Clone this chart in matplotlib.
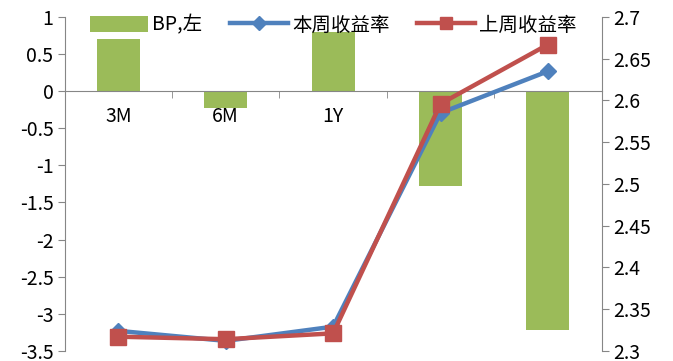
import numpy as np
import matplotlib
matplotlib.use("Agg")
import matplotlib.pyplot as plt
from matplotlib.patches import Patch
from matplotlib.lines import Line2D

plt.rcParams['font.family'] = ['Noto Sans CJK SC', 'DejaVu Sans']

# data
categories = ["3M", "6M", "1Y", "2Y", "3Y"]
bp_change = [0.7, -0.23, 0.8, -1.28, -3.22]
this_week = [2.324, 2.312, 2.329, 2.585, 2.635]
last_week = [2.317, 2.314, 2.321, 2.596, 2.667]

green = "#9BBB59"
blue = "#4F81BD"
red = "#C0504D"
axis_gray = "#868686"

fig = plt.figure(figsize=(6.73, 3.61), dpi=100)
ax = fig.add_axes([0.096, 0.028, 0.798, 0.925])
ax2 = ax.twinx()

x = np.arange(len(categories))
ax.bar(x, bp_change, width=0.4, color=green, zorder=2)

ax2.plot(x, this_week, color=blue, lw=3.2, marker="D", ms=8, zorder=3)
ax2.plot(x, last_week, color=red, lw=3.2, marker="s", ms=11, zorder=4)

ax.set_xlim(-0.5, len(categories) - 0.5)
ax.set_ylim(-3.5, 1)
ax.set_yticks(np.arange(-3.5, 1.01, 0.5))
ax.set_yticklabels([f"{v:g}" for v in np.arange(-3.5, 1.01, 0.5)], fontsize=14)
ax2.set_ylim(2.3, 2.7)
ax2.set_yticks(np.arange(2.3, 2.701, 0.05))
ax2.set_yticklabels([f"{v:g}" for v in np.round(np.arange(2.3, 2.701, 0.05), 2)],
                    fontsize=14)

# category axis crossing at zero, labels just below
ax.spines['bottom'].set_position(('data', 0))
ax.set_xticks(x)
ax.set_xticklabels(categories, fontsize=14)
ax.tick_params(axis='x', which='major', length=0, pad=11)
ax.set_xticks(np.arange(0.5, len(categories) - 0.5, 1), minor=True)
ax.tick_params(axis='x', which='minor', length=5, direction='out', color=axis_gray)

for a in (ax, ax2):
    a.spines['top'].set_visible(False)
    for s in ('left', 'right', 'bottom'):
        a.spines[s].set_color(axis_gray)
ax.spines['right'].set_visible(False)
ax2.spines['left'].set_visible(False)
ax2.spines['bottom'].set_visible(False)

ax.tick_params(axis='y', length=5, color=axis_gray, pad=3)
ax2.tick_params(axis='y', length=5, color=axis_gray, pad=3)

handles = [
    Patch(facecolor=green),
    Line2D([0], [0], color=blue, lw=3.2, marker="D", ms=7),
    Line2D([0], [0], color=red, lw=3.2, marker="s", ms=9),
]
labels = ["BP,左", "本周收益率", "上周收益率"]
ax2.legend(handles, labels, loc="upper center", bbox_to_anchor=(0.5, 1.06),
           ncol=3, frameon=False, fontsize=14, handlelength=3.0,
           handleheight=0.9, columnspacing=1.4, handletextpad=0.2)

fig.savefig("out.png", dpi=100)
